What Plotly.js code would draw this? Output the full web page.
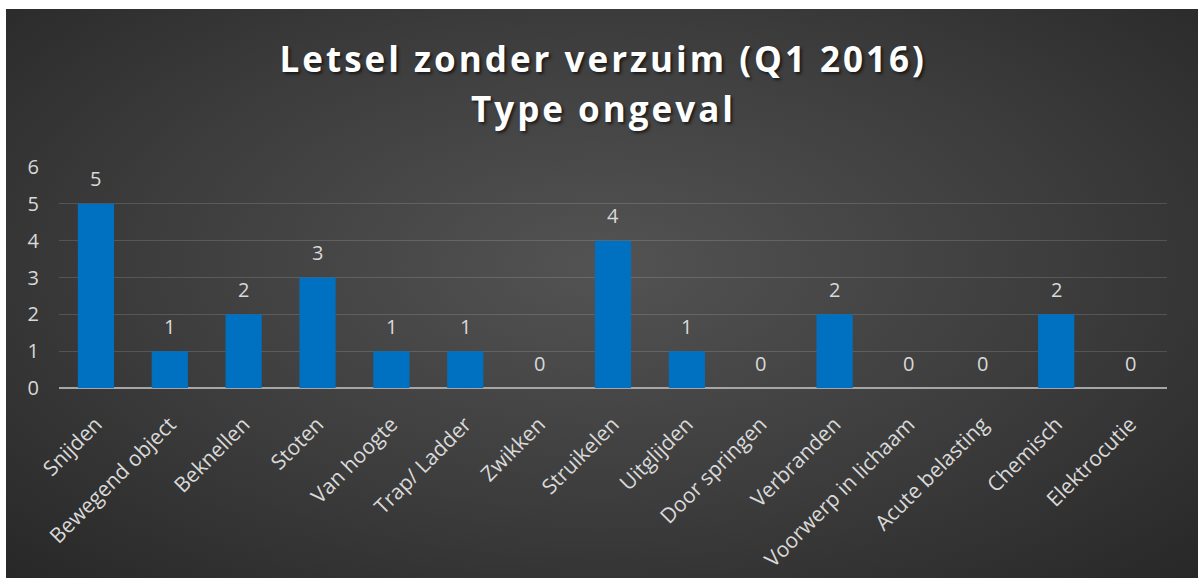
<!DOCTYPE html>
<html>
<head>
<meta charset="utf-8">
<script src="https://cdn.plot.ly/plotly-3.0.1.min.js"></script>
<style>
  html, body { margin: 0; padding: 0; background: #ffffff; width: 1200px; height: 578px; overflow: hidden; }
  #bg { position: absolute; left: 6px; top: 9px; width: 1192px; height: 569px;
        background: radial-gradient(ellipse 72% 78% at 50% 45%, #535353 0%, #3c3c3c 55%, #272727 100%); }
  #chart { position: absolute; left: 6px; top: 9px; width: 1192px; height: 569px; }
  g.annotation[data-index="0"] text, g.annotation[data-index="1"] text { letter-spacing: 3px; }
</style>
</head>
<body>
<div id="bg"></div>
<div id="chart"></div>
<script>
const titleLine1 = "Letsel zonder verzuim (Q1 2016)";
const titleLine2 = "Type ongeval";
const categories = ["Snijden", "Bewegend object", "Beknellen", "Stoten", "Van hoogte", "Trap/ Ladder", "Zwikken", "Struikelen", "Uitglijden", "Door springen", "Verbranden", "Voorwerp in lichaam", "Acute belasting", "Chemisch", "Elektrocutie"];
const values = [5, 1, 2, 3, 1, 1, 0, 4, 1, 0, 2, 0, 0, 2, 0];
const yTicks = [0, 1, 2, 3, 4, 5, 6];

const textColor = "#d9d9d9";
const font = "Open Sans, Noto Sans, sans-serif";

const trace = {
  type: "bar",
  x: categories,
  y: values,
  marker: { color: "#0070c0" },
  width: 0.49,
  hoverinfo: "x+y"
};

const annotations = [
  { text: "<b>" + titleLine1 + "</b>", xref: "paper", yref: "paper", x: 0.5, y: 1, yshift: 109, xshift: -10,
    xanchor: "center", yanchor: "middle", showarrow: false,
    font: { family: font, size: 35, color: "#ffffff", shadow: "2px 2px 3px rgba(0,0,0,0.6)" } },
  { text: "<b>" + titleLine2 + "</b>", xref: "paper", yref: "paper", x: 0.5, y: 1, yshift: 59, xshift: -10,
    xanchor: "center", yanchor: "middle", showarrow: false,
    font: { family: font, size: 35, color: "#ffffff", shadow: "2px 2px 3px rgba(0,0,0,0.6)" } }
];
categories.forEach((c, i) => {
  annotations.push({
    text: String(values[i]), x: c, y: values[i], xref: "x", yref: "y",
    yshift: 25, showarrow: false, xanchor: "center", yanchor: "middle",
    font: { family: font, size: 20, color: textColor }
  });
});

const layout = {
  width: 1192, height: 569,
  margin: { l: 53, r: 31, t: 158, b: 190 },
  paper_bgcolor: "rgba(0,0,0,0)",
  plot_bgcolor: "rgba(0,0,0,0)",
  showlegend: false,
  font: { family: font, color: textColor },
  xaxis: {
    type: "category",
    tickangle: -45,
    tickfont: { family: font, size: 21, color: textColor },
    showgrid: false, zeroline: false, showline: false, ticks: "",
    ticklabelstandoff: 19
  },
  yaxis: {
    range: [0, 6],
    tickvals: yTicks,
    tickfont: { family: font, size: 20, color: textColor },
    showgrid: true, gridcolor: "rgba(255,255,255,0.14)", gridwidth: 1,
    zeroline: true, zerolinecolor: "#a6a6a6", zerolinewidth: 2,
    showline: false, ticks: "", ticklabelstandoff: 19
  },
  annotations: annotations
};

Plotly.newPlot("chart", [trace], layout, { displayModeBar: false, staticPlot: true });
</script>
</body>
</html>
